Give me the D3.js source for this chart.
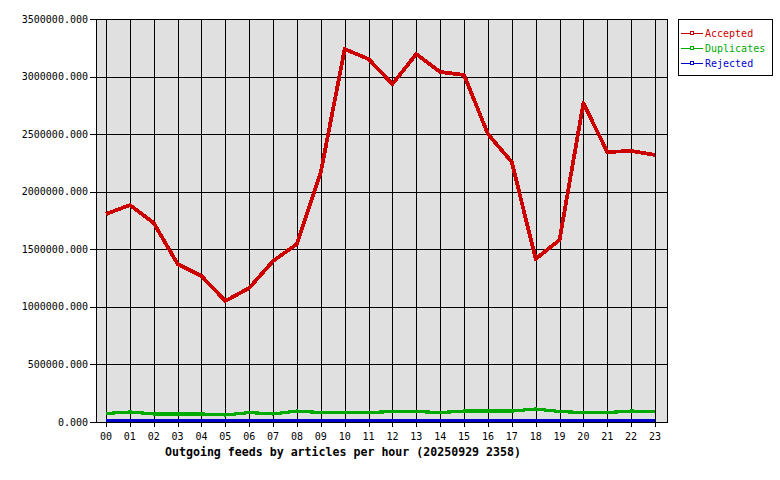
<!DOCTYPE html>
<html>
<head>
<meta charset="utf-8">
<script src="https://cdn.jsdelivr.net/npm/d3@7"></script>
<style>
  body { margin: 0; background: #ffffff; }
  svg text { font-family: "DejaVu Sans Mono", monospace; }
</style>
</head>
<body>
<div id="chart"></div>
<script>
// hours of the day
var hours = ["00","01","02","03","04","05","06","07","08","09","10","11",
             "12","13","14","15","16","17","18","19","20","21","22","23"];

// articles per hour
var accepted = [1806000, 1884000, 1728000, 1372000, 1268000, 1051000, 1164000, 1398000,
                1546000, 2171000, 3239000, 3152000, 2935000, 3196000, 3040000, 3014000,
                2501000, 2258000, 1416000, 1581000, 2770000, 2345000, 2354000, 2319000];
var duplicates = [74000, 87000, 70000, 70000, 70000, 61000, 82000, 70000,
                  95000, 82000, 82000, 82000, 91000, 91000, 82000, 95000,
                  95000, 95000, 113000, 91000, 82000, 82000, 95000, 91000];
var rejected = [15000, 15000, 15000, 15000, 15000, 15000, 15000, 15000,
                15000, 15000, 15000, 15000, 15000, 15000, 15000, 15000,
                15000, 15000, 15000, 15000, 15000, 15000, 15000, 15000];

var yTicks = [0, 500000, 1000000, 1500000, 2000000, 2500000, 3000000, 3500000];
var seriesNames = ["Accepted", "Duplicates", "Rejected"];
var seriesColors = ["#cc0000", "#00aa00", "#0000cc"];
var seriesWidths = [3.8, 3.2, 3.2];
var seriesData = [accepted, duplicates, rejected];

var titleText = "Outgoing feeds by articles per hour (20250929 2358)";

(function draw() {
var svg = d3.select("#chart").append("svg")
  .attr("width", 780).attr("height", 480);

var pLeft = 96, pRight = 667, pTop = 19, pBottom = 422;

var x = d3.scaleLinear().domain([0, 23]).range([106, 655]);
var y = d3.scaleLinear().domain([0, 3500000]).range([pBottom, pTop]);

// plot background
svg.append("rect")
  .attr("x", pLeft).attr("y", pTop)
  .attr("width", pRight - pLeft).attr("height", pBottom - pTop)
  .attr("fill", "#e0e0e0");

// grid
svg.append("g").selectAll("line")
  .data(hours).enter().append("line")
    .attr("x1", function(d,i){ return Math.round(x(i)) + 0.5; })
    .attr("x2", function(d,i){ return Math.round(x(i)) + 0.5; })
    .attr("y1", pTop).attr("y2", pBottom + 5)
    .attr("stroke", "#000").attr("stroke-width", 1);

svg.append("g").selectAll("line")
  .data(yTicks).enter().append("line")
    .attr("x1", pLeft - 6).attr("x2", pRight)
    .attr("y1", function(d){ return Math.round(y(d)) + 0.5; })
    .attr("y2", function(d){ return Math.round(y(d)) + 0.5; })
    .attr("stroke", "#000").attr("stroke-width", 1);

// frame
svg.append("rect")
  .attr("x", pLeft + 0.5).attr("y", pTop + 0.5)
  .attr("width", pRight - pLeft).attr("height", pBottom - pTop)
  .attr("fill", "none").attr("stroke", "#000");

// y labels
svg.append("g").selectAll("text")
  .data(yTicks).enter().append("text")
    .attr("x", 88)
    .attr("y", function(d){ return y(d); })
    .attr("dy", "0.35em")
    .attr("text-anchor", "end")
    .attr("font-size", "10px")
    .attr("fill", "#000")
    .text(function(d){ return d3.format(".3f")(d); });

// x labels
svg.append("g").selectAll("text")
  .data(hours).enter().append("text")
    .attr("x", function(d,i){ return x(i); })
    .attr("y", 440)
    .attr("text-anchor", "middle")
    .attr("font-size", "10px")
    .attr("fill", "#000")
    .text(function(d){ return d; });

svg.append("text")
  .attr("x", 343).attr("y", 456)
  .attr("text-anchor", "middle")
  .attr("font-size", "11.6px")
  .attr("font-weight", "bold")
  .attr("fill", "#000")
  .text(titleText);

// series lines
var line = d3.line()
  .x(function(d,i){ return x(i); })
  .y(function(d){ return y(d); });

var plot = svg.append("g");
seriesData.forEach(function(values, k){
  plot.append("path")
    .attr("d", line(values))
    .attr("fill", "none")
    .attr("stroke", seriesColors[k])
    .attr("stroke-width", seriesWidths[k])
    .attr("stroke-linejoin", "round")
    .attr("shape-rendering", "crispEdges");
});

// legend
var legend = svg.append("g");
legend.append("rect")
  .attr("x", 678.5).attr("y", 19.5)
  .attr("width", 94).attr("height", 56)
  .attr("fill", "#fff").attr("stroke", "#000");

var items = legend.selectAll("g.item")
  .data(seriesNames).enter().append("g")
    .attr("transform", function(d,i){ return "translate(0," + (33 + i*15) + ")"; });

items.append("line")
  .attr("x1", 681).attr("x2", 703).attr("y1", 0.5).attr("y2", 0.5)
  .attr("stroke", function(d,i){ return seriesColors[i]; });
items.append("rect")
  .attr("x", 690.5).attr("y", -1.5).attr("width", 3).attr("height", 3)
  .attr("fill", "#fff")
  .attr("stroke", function(d,i){ return seriesColors[i]; });
items.append("text")
  .attr("x", 705).attr("y", 0)
  .attr("dy", "0.35em")
  .attr("font-size", "10px")
  .attr("fill", function(d,i){ return seriesColors[i]; })
  .text(function(d){ return d; });
})();
</script>
</body>
</html>
